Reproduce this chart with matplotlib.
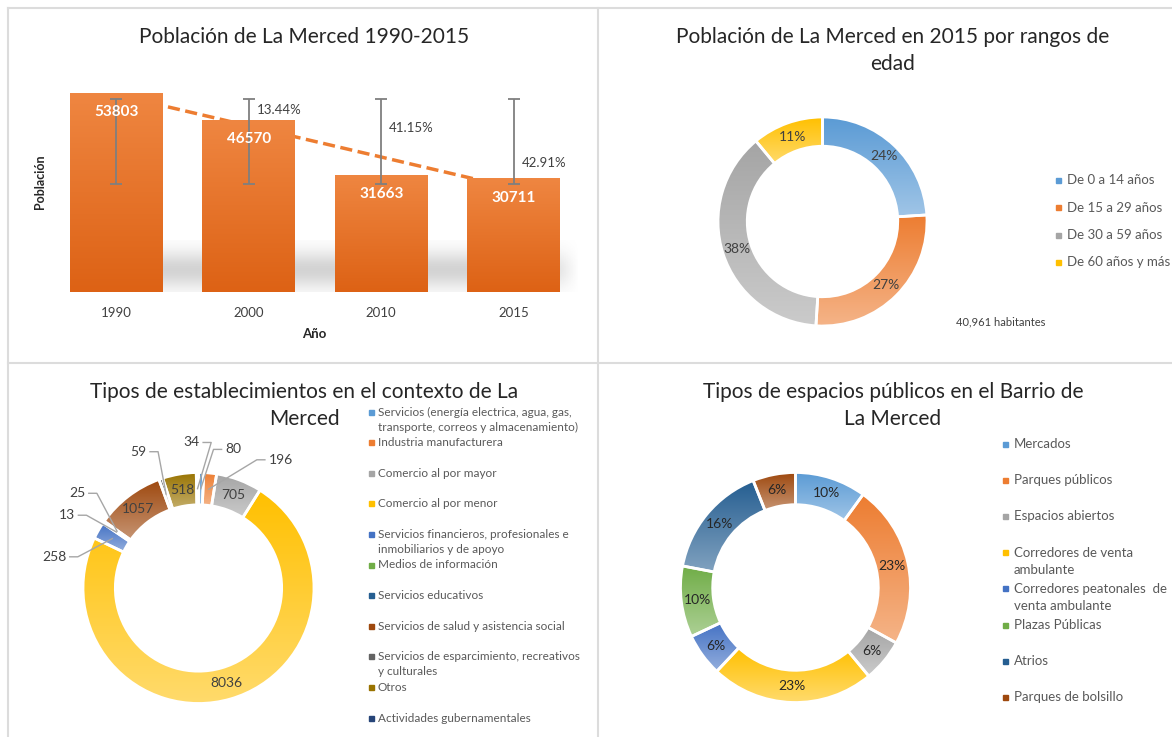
import numpy as np
import matplotlib.pyplot as plt
from matplotlib.patches import Rectangle
from matplotlib.lines import Line2D
from matplotlib.colors import to_rgb

plt.rcParams['font.family'] = ['Lato', 'DejaVu Sans']

W, H = 1172, 737

# ---------------- data ----------------
years = ['1990', '2000', '2010', '2015']
population = [53803, 46570, 31663, 30711]
decline_labels = ['13.44%', '41.15%', '42.91%']      # next to 2000, 2010, 2015
decline_label_y = [49200, 44300, 34900]              # label heights (data units)

age_groups = ['De 0 a 14 años', 'De 15 a 29 años', 'De 30 a 59 años', 'De 60 años y más']
age_share = [24, 27, 38, 11]
total_text = '40,961 habitantes'

business_types = [
    'Servicios (energía electrica, agua, gas,\ntransporte, correos y almacenamiento)',
    'Industria manufacturera',
    'Comercio al por mayor',
    'Comercio al por menor',
    'Servicios financieros, profesionales e\ninmobiliarios y de apoyo',
    'Medios de información',
    'Servicios educativos',
    'Servicios de salud y asistencia social',
    'Servicios de esparcimiento, recreativos\ny culturales',
    'Otros',
    'Actividades gubernamentales',
]
business_counts = [80, 196, 705, 8036, 258, 13, 25, 1057, 59, 518, 34]
# small slices get outside labels at these spots (radius units)
outside_pos = {0: (0.30, 1.20), 1: (0.71, 1.11), 4: (-1.25, 0.27), 5: (-1.14, 0.63),
               6: (-1.05, 0.82), 8: (-0.52, 1.18), 10: (-0.06, 1.26)}

space_types = ['Mercados', 'Parques públicos', 'Espacios abiertos',
               'Corredores de venta\nambulante', 'Corredores peatonales  de\nventa ambulante',
               'Plazas Públicas', 'Atrios', 'Parques de bolsillo']
space_share = [10, 23, 6, 23, 6, 10, 16, 6]

office = ['#5B9BD5', '#ED7D31', '#A5A5A5', '#FFC000', '#4472C4', '#70AD47',
          '#255E91', '#9E480E', '#636363', '#997300', '#264478']

TXT = '#404040'
LEG = '#595959'

fig = plt.figure(figsize=(W / 100, H / 100), dpi=100)


def fx(x):
    return x / W


def fy(y):
    return 1 - y / H


def px_axes(left, top, right, bottom):
    return fig.add_axes([fx(left), fy(bottom), (right - left) / W, (bottom - top) / H])


def lighten(c, amt):
    r = np.array(to_rgb(c))
    return r + (1 - r) * amt


def shade(ax, patch, extent, c_top, c_bot, z):
    t = np.linspace(0, 1, 64)[:, None]
    rgb = (1 - t) * np.array(to_rgb(c_top)) + t * np.array(to_rgb(c_bot))
    im = ax.imshow(rgb[:, None, :], extent=extent, origin='upper', aspect='auto',
                   zorder=z, interpolation='bilinear')
    im.set_clip_path(patch)


def title(cx, y, lines, size=15):
    for k, line in enumerate(lines):
        fig.text(fx(cx), fy(y + k * 27), line, ha='center', va='center',
                 fontsize=size, color='#262626')


def legend(xm, xt, ys, labels, colors, size, gap):
    for y, lab, c in zip(ys, labels, colors):
        fig.add_artist(Rectangle((fx(xm - 2.5), fy(y + 2.5)), 5 / W, 5 / H,
                                 color=c, transform=fig.transFigure))
        for k, line in enumerate(lab.split('\n')):
            fig.text(fx(xt), fy(y + k * gap), line, fontsize=size, color=LEG,
                     ha='left', va='center')


def donut(cx, cy, R, values, colors):
    ax = px_axes(cx - 1.25 * R, cy - 1.25 * R, cx + 1.25 * R, cy + 1.25 * R)
    wedges, _ = ax.pie(values, colors=colors, startangle=90, counterclock=False, radius=1,
                       wedgeprops=dict(width=0.28, edgecolor='white', linewidth=2))
    for w, c in zip(wedges, colors):
        (x0, y0), (x1, y1) = w.get_path().get_extents().get_points()
        shade(ax, w, (x0, x1, y0, y1), c, lighten(c, 0.42), 1)
        w.set_facecolor('none')
        w.set_zorder(2)
    ax.set_xlim(-1.25, 1.25)
    ax.set_ylim(-1.25, 1.25)
    ax.set_aspect('equal')
    ax.axis('off')
    vals = np.asarray(values, float)
    mid = np.radians((np.cumsum(vals) - vals / 2) / vals.sum() * 360)
    return ax, mid


# ---------------- panel borders ----------------
for xs, ys in [([8, W], [8, 8]), ([8, 8], [8, H]), ([598, 598], [8, H]), ([8, W], [363, 363])]:
    fig.add_artist(Line2D([fx(v) for v in xs], [fy(v) for v in ys], color='#DCDCDC',
                          lw=1.5, transform=fig.transFigure))

# ---------------- panel 1: bars ----------------
title(304, 37, ['Población de La Merced 1990-2015'])
ax1 = px_axes(50, 70, 580, 292)
x = np.arange(len(years))

# soft floor shadow behind the bars
sy = np.linspace(0, 14000, 80)
sx = np.linspace(0, 3.5, 200)
alpha = 0.38 * np.exp(-((sy - 6000) / 5000) ** 2)[:, None] * np.clip((3.5 - sx) / 0.25, 0, 1)[None, :]
shadow = np.zeros((len(sy), len(sx), 4))
shadow[..., :3] = 0.55
shadow[..., 3] = alpha
ax1.imshow(shadow, extent=(0, 3.5, 0, 14000), origin='lower', aspect='auto', zorder=1)

coef = np.polyfit(x, population, 1)
ax1.plot(x, np.polyval(coef, x), color='#ED7D31', lw=2.5, ls=(0, (3.5, 1.6)), zorder=2)

bars = ax1.bar(x, population, width=0.70, color='none', zorder=3)
for b, v in zip(bars, population):
    shade(ax1, b, (b.get_x(), b.get_x() + b.get_width(), 0, v), '#EF8641', '#DD6215', 3)
    ax1.annotate(str(v), (b.get_x() + b.get_width() / 2, v), xytext=(0, -14),
                 textcoords='offset points', ha='center', va='center', color='white',
                 fontweight='bold', fontsize=11, zorder=6)

mean = np.mean(population)
sd = np.std(population, ddof=1)
ax1.errorbar(x, [mean] * len(x), yerr=sd, fmt='none', ecolor='#7F7F7F', elinewidth=1.3,
             capsize=4, capthick=1.3, zorder=5)
for i, lab in enumerate(decline_labels):
    ax1.text(x[i + 1] + 0.06, decline_label_y[i], lab, ha='left', va='center',
             fontsize=9.5, color=TXT, zorder=6)

ax1.set_xlim(-0.5, 3.5)
ax1.set_ylim(0, 60000)
ax1.set_xticks(x, years)
ax1.set_yticks([])
ax1.tick_params(length=0, pad=11, labelsize=9.5, labelcolor=TXT)
for s in ax1.spines.values():
    s.set_visible(False)
ax1.patch.set_alpha(0)
fig.text(fx(40), fy(182), 'Población', rotation=90, ha='center', va='center',
         fontsize=9, fontweight='bold', color='#262626')
fig.text(fx(314), fy(334), 'Año', ha='center', va='center', fontsize=9.5,
         fontweight='bold', color='#262626')

# ---------------- panel 2: age donut ----------------
title(893, 37, ['Población de La Merced en 2015 por rangos de', 'edad'])
ax2, mid2 = donut(822.5, 221.5, 104.5, age_share, office[:4])
for th, v in zip(mid2, age_share):
    ax2.text(0.86 * np.sin(th), 0.86 * np.cos(th), f'{v}%', ha='center', va='center',
             fontsize=10, color=TXT, zorder=4)
legend(1058, 1067, 180 + 27.5 * np.arange(4), age_groups, office[:4], 9.5, 15)
fig.text(fx(956), fy(322), total_text, ha='left', va='center', fontsize=8, color=TXT)

# ---------------- panel 3: business donut ----------------
title(304, 392, ['Tipos de establecimientos en el contexto de La', 'Merced'])
ax3, mid3 = donut(198.5, 588, 115.5, business_counts, office)
for i, (th, v) in enumerate(zip(mid3, business_counts)):
    px, py = 0.86 * np.sin(th), 0.86 * np.cos(th)
    if i not in outside_pos:
        ax3.text(px, py, str(v), ha='center', va='center', fontsize=10, color=TXT, zorder=4)
        continue
    lx, ly = outside_pos[i]
    ax3.text(lx, ly, str(v), ha='center', va='center', fontsize=10, color=TXT, zorder=4)
    half = 0.035 * len(str(v)) + 0.03
    side = 1 if px > lx else -1
    sx0 = lx + side * half
    ax3.plot([sx0, sx0 + side * 0.07, px], [ly, ly, py], color='#A6A6A6', lw=1,
             zorder=3, clip_on=False)
legend(371, 378, 412 + 30.6 * np.arange(len(business_types)), business_types, office, 8.5, 15)

# ---------------- panel 4: public space donut ----------------
title(893, 392, ['Tipos de espacios públicos en el Barrio de', 'La Merced'])
ax4, mid4 = donut(795.5, 587.5, 115, space_share, office[:8])
for th, v in zip(mid4, space_share):
    ax4.text(0.86 * np.sin(th), 0.86 * np.cos(th), f'{v}%', ha='center', va='center',
             fontsize=10, color='#262626', zorder=4)
legend(1005, 1014, 444 + 36.2 * np.arange(len(space_types)), space_types, office[:8], 9.5, 17)

fig.savefig('out.png', dpi=100)
